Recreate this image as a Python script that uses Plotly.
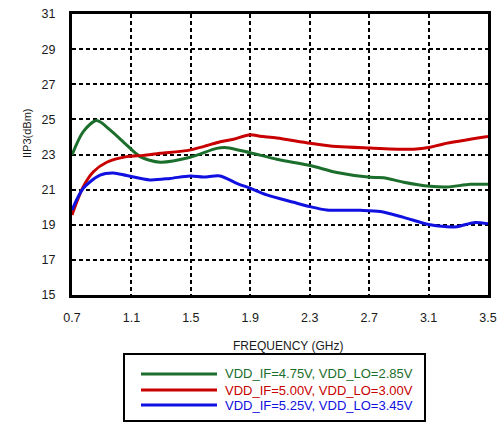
import plotly.graph_objects as go

freq_green = [0.7, 0.776, 0.866, 0.956, 1.068, 1.158, 1.293, 1.495, 1.674, 1.742, 1.899, 2.079, 2.303, 2.483, 2.707, 2.797, 2.932, 3.111, 3.224, 3.38, 3.5]
iip3_green = [22.97, 24.3, 24.93, 24.4, 23.54, 22.88, 22.56, 22.84, 23.35, 23.39, 23.1, 22.73, 22.37, 21.97, 21.70, 21.68, 21.42, 21.19, 21.15, 21.30, 21.30]

freq_red = [0.7, 0.776, 0.844, 0.934, 1.068, 1.18, 1.293, 1.472, 1.585, 1.697, 1.787, 1.899, 1.966, 2.079, 2.303, 2.483, 2.707, 2.999, 3.111, 3.2, 3.5]
iip3_red = [19.56, 21.17, 22.02, 22.56, 22.88, 22.95, 23.07, 23.22, 23.45, 23.73, 23.87, 24.13, 24.04, 23.94, 23.64, 23.45, 23.37, 23.30, 23.41, 23.6, 24.02]

freq_blue = [0.7, 0.776, 0.889, 0.978, 1.068, 1.225, 1.36, 1.495, 1.585, 1.697, 1.809, 1.899, 2.011, 2.191, 2.303, 2.415, 2.64, 2.775, 2.932, 3.111, 3.291, 3.403, 3.5]
iip3_blue = [19.84, 21.08, 21.83, 21.95, 21.80, 21.55, 21.64, 21.78, 21.72, 21.78, 21.36, 21.08, 20.70, 20.28, 20.03, 19.84, 19.82, 19.75, 19.42, 19.0, 18.89, 19.12, 19.05]

series_names = ["VDD_IF=4.75V, VDD_LO=2.85V", "VDD_IF=5.00V, VDD_LO=3.00V", "VDD_IF=5.25V, VDD_LO=3.45V"]
series_colors = ["#1b6e2b", "#c80000", "#1010e0"]

x_ticks = [0.7, 1.1, 1.5, 1.9, 2.3, 2.7, 3.1, 3.5]
y_ticks = [15, 17, 19, 21, 23, 25, 27, 29, 31]

FONT = "Liberation Sans, Arial, sans-serif"
TXT = "#1a1a1a"

fig = go.Figure()
for fx, fy, name, col in zip([freq_green, freq_red, freq_blue], [iip3_green, iip3_red, iip3_blue], series_names, series_colors):
    fig.add_trace(go.Scatter(x=fx, y=fy, mode="lines", name=name, showlegend=False,
                             line=dict(color=col, width=3, shape="spline", smoothing=0.8)))

axis_common = dict(showgrid=True, gridcolor="black", griddash="4px,3px", gridwidth=2,
                   zeroline=False, showline=True, linecolor="black", linewidth=3, mirror=True,
                   ticks="", automargin=False, ticklabeloverflow="allow",
                   tickfont=dict(family=FONT, size=12.5, color=TXT))

fig.update_xaxes(range=[0.7, 3.5], tickvals=x_ticks, ticktext=[f"{v:.1f}" for v in x_ticks],
                 ticklabelstandoff=9, **axis_common)
fig.update_yaxes(range=[15, 31], tickvals=y_ticks, ticklabelstandoff=11, **axis_common)

L, R, T, B = 72, 488, 14, 295   # plot area in page pixels
W, H = R - L, B - T
def px(x):
    return (x - L) / W
def py(y):
    return (B - y) / H

annotations = [
    dict(xref="paper", yref="paper", x=px(288), y=py(346), text="FREQUENCY (GHz)", showarrow=False,
         xanchor="center", yanchor="middle", font=dict(family=FONT, size=12, color=TXT)),
    dict(xref="paper", yref="paper", x=px(27), y=py(133), text="IIP3(dBm)", showarrow=False, textangle=-90,
         xanchor="center", yanchor="middle", font=dict(family=FONT, size=11, color=TXT)),
]

shapes = [dict(type="rect", xref="paper", yref="paper", x0=px(124), x1=px(425), y0=py(354), y1=py(421),
               line=dict(color="black", width=2), fillcolor="white")]
rows = [374, 390, 405]
for yy, name, col in zip(rows, series_names, series_colors):
    shapes.append(dict(type="line", xref="paper", yref="paper", x0=px(141), x1=px(217), y0=py(yy), y1=py(yy),
                       line=dict(color=col, width=3)))
    annotations.append(dict(xref="paper", yref="paper", x=px(223), y=py(yy), text=name, showarrow=False,
                            xanchor="left", yanchor="middle", font=dict(family=FONT, size=13, color=col)))

fig.update_layout(width=500, height=423,
                  margin=dict(l=L, r=500 - R, t=T, b=423 - B),
                  plot_bgcolor="white", paper_bgcolor="white", showlegend=False,
                  shapes=shapes, annotations=annotations)

fig.write_html("out.html", config={"displayModeBar": False},
               post_script="document.body.style.margin='0';document.body.style.overflow='hidden';")
